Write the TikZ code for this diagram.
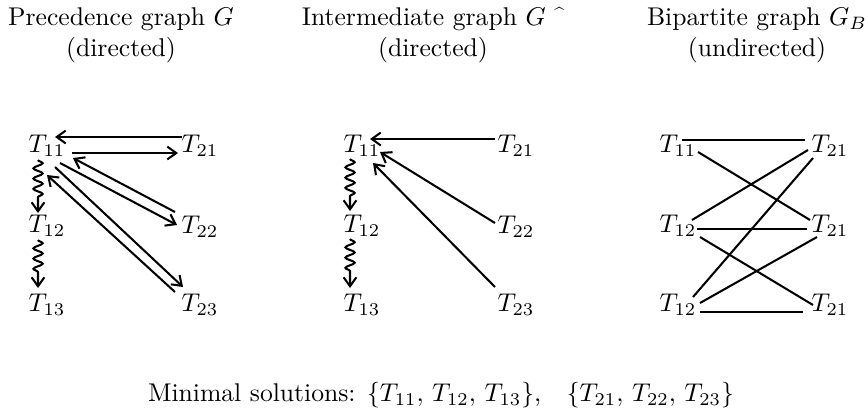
\documentclass[tikz,border=0pt]{standalone}
\usetikzlibrary{arrows.meta, decorations.pathmorphing}
\tikzset{
    >={Straight Barb[length=3.5pt,width=5pt]},
    % Nodes
    task/.style={inner sep=0pt, font=\normalsize},
    title/.style={align=center, inner sep=0pt},
    % Edges
    edge/.style={line width=0.8pt},
    prec/.style={->, edge},
    chain/.style={->, edge, decorate,
                  decoration={snake, amplitude=1.8pt, segment length=4pt, post length=5pt}}
}

\begin{document}
\begin{tikzpicture}[x=0.39pt, y=-0.39pt]
\useasboundingbox (0,0) rectangle (868,419);

% Titles
\node[title] (tPrec) at (121,35) {Precedence graph $G$\\(directed)};
\node[title] (tInter) at (433,35) {Intermediate graph $G$ \raisebox{0.4ex}{\scriptsize\^{}}\\(directed)};
\node[title] (tBip) at (757,35) {Bipartite graph $G_B$\\(undirected)};

% Precedence graph
\node[task] (a11) at (47,146) {$T_{11}$};
\node[task] (a12) at (47,226) {$T_{12}$};
\node[task] (a13) at (47,305) {$T_{13}$};
\node[task] (a21) at (200,146) {$T_{21}$};
\node[task] (a22) at (200,227) {$T_{22}$};
\node[task] (a23) at (200,305) {$T_{23}$};

\draw[prec] ([shift={(-18,-9)}]a21.center) -- ([shift={(8,-9)}]a11.center);
\draw[prec] ([shift={(25,7)}]a11.center) -- ([shift={(-22,7)}]a21.center);
\draw[prec] ([shift={(-25,-15)}]a22.center) -- ([shift={(26,12)}]a11.center);
\draw[prec] ([shift={(13,17)}]a11.center) -- ([shift={(-23,-2)}]a22.center);
\draw[prec] ([shift={(-25,-13)}]a23.center) -- ([shift={(0,29)}]a11.center);
\draw[prec] ([shift={(8,21)}]a11.center) -- ([shift={(-17,-18)}]a23.center);
\draw[chain] ([shift={(-9,14)}]a11.center) -- ([shift={(-9,-13)}]a12.center);
\draw[chain] ([shift={(-9,14)}]a12.center) -- ([shift={(-9,-17)}]a13.center);

% Intermediate graph
\node[task] (b11) at (362,146) {$T_{11}$};
\node[task] (b12) at (362,226) {$T_{12}$};
\node[task] (b13) at (362,305) {$T_{13}$};
\node[task] (e21) at (516,146) {$T_{21}$};
\node[task] (e22) at (516,227) {$T_{22}$};
\node[task] (e23) at (516,305) {$T_{23}$};

\draw[prec] ([shift={(-21,-7)}]e21.center) -- ([shift={(8,-7)}]b11.center);
\draw[prec] ([shift={(-21,-4)}]e22.center) -- ([shift={(18,6)}]b11.center);
\draw[prec] ([shift={(-21,-18)}]e23.center) -- ([shift={(11,17)}]b11.center);
\draw[chain] ([shift={(-12,13)}]b11.center) -- ([shift={(-12,-15)}]b12.center);
\draw[chain] ([shift={(-12,13)}]b12.center) -- ([shift={(-12,-17)}]b13.center);

% Bipartite graph
\node[task] (c11) at (678,146) {$T_{11}$};
\node[task] (c12) at (678,226) {$T_{12}$};
\node[task] (c13) at (678,305) {$T_{12}$};
\node[task] (d21) at (830,146) {$T_{21}$};
\node[task] (d22) at (830,226) {$T_{21}$};
\node[task] (d23) at (830,305) {$T_{21}$};

\draw[edge] ([shift={(4,-6)}]c11.center) -- ([shift={(-25,-6)}]d21.center);
\draw[edge] ([shift={(20,6)}]c11.center) -- ([shift={(-20,-6)}]d22.center);
\draw[edge] ([shift={(14,-6)}]c12.center) -- ([shift={(-22,4)}]d21.center);
\draw[edge] ([shift={(19,3)}]c12.center) -- ([shift={(-23,3)}]d22.center);
\draw[edge] ([shift={(22,11)}]c12.center) -- ([shift={(-17,0)}]d23.center);
\draw[edge] ([shift={(15,-8)}]c13.center) -- ([shift={(-17,12)}]d21.center);
\draw[edge] ([shift={(22,-2)}]c13.center) -- ([shift={(-13,11)}]d22.center);
\draw[edge] ([shift={(22,7)}]c13.center) -- ([shift={(-27,7)}]d23.center);

% Solutions
\node[inner sep=0pt] (sol) at (441,395)
  {Minimal solutions: $\{T_{11},\, T_{12},\, T_{13}\}$,\quad $\{T_{21},\, T_{22},\, T_{23}\}$};

\end{tikzpicture}
\end{document}
